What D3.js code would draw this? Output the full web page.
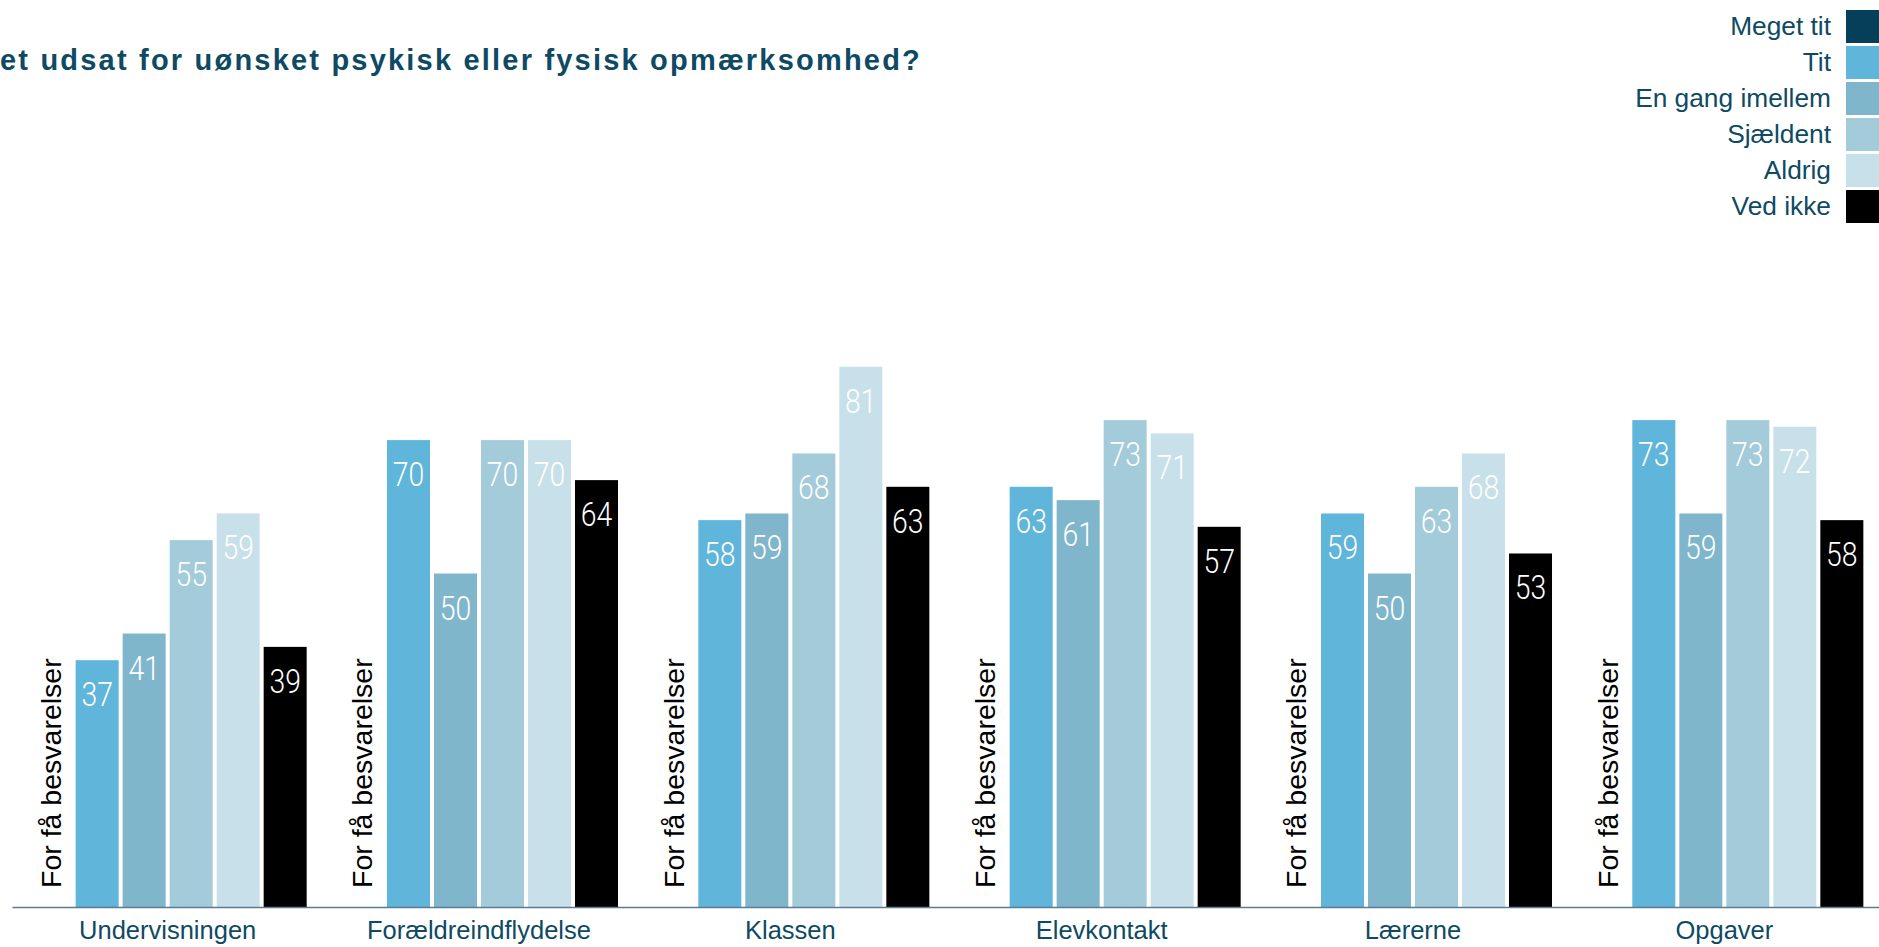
<!DOCTYPE html>
<html>
<head>
<meta charset="utf-8">
<script src="https://cdn.jsdelivr.net/npm/d3@7"></script>
<style>
  html, body { margin: 0; padding: 0; background: #ffffff; overflow: hidden; }
  svg { display: block; }
</style>
</head>
<body>
<svg id="chart" width="1879" height="947"></svg>
<script>
// ---- Data ----
const titleText = "et udsat for uønsket psykisk eller fysisk opmærksomhed?";
const categories = ["Undervisningen", "Forældreindflydelse", "Klassen", "Elevkontakt", "Lærerne", "Opgaver"];
const seriesNames = ["Meget tit", "Tit", "En gang imellem", "Sjældent", "Aldrig", "Ved ikke"];
const seriesColors = ["#053f59", "#5fb5da", "#80b6cb", "#a3cbda", "#c8e0ea", "#000000"];
// values per series, one per category (null = for få besvarelser)
const megetTit      = [null, null, null, null, null, null];
const tit           = [37, 70, 58, 63, 59, 73];
const enGangImellem = [41, 50, 59, 61, 50, 59];
const sjaeldent     = [55, 70, 68, 73, 63, 73];
const aldrig        = [59, 70, 81, 71, 68, 72];
const vedIkke       = [39, 64, 63, 57, 53, 58];
const missingLabel = "For få besvarelser";
const yDomain = [0, 100];

const seriesValues = [megetTit, tit, enGangImellem, sjaeldent, aldrig, vedIkke];

// ---- Layout ----
const svg = d3.select("#chart");
const baseY = 907;
const textColor = "#0e4a63";

const x0 = d3.scaleBand().domain(categories).range([12, 1880]).paddingInner(0.107).paddingOuter(0.0535);
const x1 = d3.scaleBand().domain(seriesNames).range([0, x0.bandwidth()]).paddingInner(0.085).paddingOuter(0);
const y = d3.scaleLinear().domain(yDomain).range([baseY, 240]);
const color = d3.scaleOrdinal().domain(seriesNames).range(seriesColors);

// Title
svg.append("text")
  .attr("x", 0).attr("y", 70)
  .attr("font-family", "'Liberation Sans', Arial, sans-serif")
  .attr("font-weight", "bold")
  .attr("font-size", 29)
  .attr("letter-spacing", 2.2)
  .attr("fill", textColor)
  .text(titleText);

// Bars
const rows = categories.map((c, i) => ({
  cat: c,
  vals: seriesNames.map((s, j) => ({ series: s, value: seriesValues[j][i], cat: c }))
}));

const groups = svg.append("g").selectAll("g.grp").data(rows).join("g")
  .attr("class", "grp")
  .attr("transform", d => `translate(${x0(d.cat)},0)`);

groups.selectAll("rect").data(d => d.vals.filter(v => v.value != null)).join("rect")
  .attr("x", d => x1(d.series))
  .attr("width", x1.bandwidth())
  .attr("y", d => y(d.value))
  .attr("height", d => y(0) - y(d.value))
  .attr("fill", d => color(d.series));

// Value labels
groups.selectAll("text.val").data(d => d.vals.filter(v => v.value != null)).join("text")
  .attr("class", "val")
  .attr("transform", d => `translate(${x1(d.series) + x1.bandwidth() / 2},${y(d.value) + 46}) scale(0.86,1)`)
  .attr("text-anchor", "middle")
  .attr("font-family", "Roboto, sans-serif")
  .attr("font-weight", 300)
  .attr("font-size", 33)
  .attr("fill", "#ffffff")
  .text(d => d3.format("d")(d.value));

// Missing labels (rotated)
groups.selectAll("text.miss").data(d => d.vals.filter(v => v.value == null)).join("text")
  .attr("class", "miss")
  .attr("transform", d => `translate(${x1(d.series) + x1.bandwidth() / 2 + 11},${baseY - 19}) rotate(-90)`)
  .attr("text-anchor", "start")
  .attr("font-family", "'Liberation Sans', Arial, sans-serif")
  .attr("font-size", 28.5)
  .attr("fill", "#000000")
  .text(missingLabel);

// X axis
const xAxis = svg.append("g")
  .attr("transform", `translate(0,${baseY})`)
  .call(d3.axisBottom(x0).tickSize(0).tickSizeOuter(0).tickPadding(14));
xAxis.select(".domain").attr("stroke", "#5b7b93").attr("stroke-width", 1.5);
xAxis.selectAll(".tick text")
  .attr("font-family", "'Liberation Sans', Arial, sans-serif")
  .attr("font-size", 25.5)
  .attr("fill", textColor)
  .attr("dy", "0.71em");

// Legend
const legend = svg.append("g").selectAll("g").data(seriesNames).join("g")
  .attr("transform", (d, i) => `translate(0,${10 + i * 36})`);
legend.append("rect")
  .attr("x", 1846).attr("y", 0)
  .attr("width", 33).attr("height", 33)
  .attr("fill", d => color(d));
legend.append("text")
  .attr("x", 1831).attr("y", 25)
  .attr("text-anchor", "end")
  .attr("font-family", "'Liberation Sans', Arial, sans-serif")
  .attr("font-size", 26.3)
  .attr("fill", textColor)
  .text(d => d);
</script>
</body>
</html>
